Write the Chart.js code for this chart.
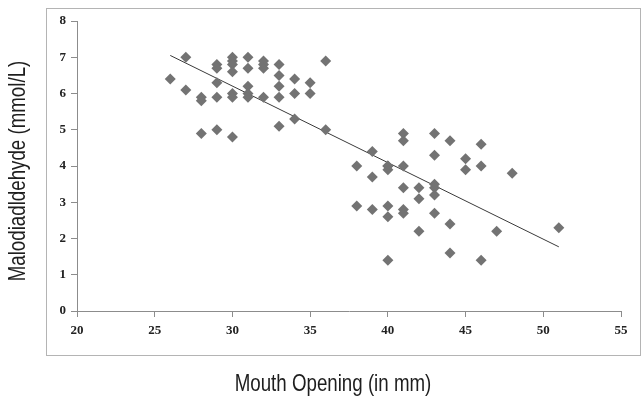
<!DOCTYPE html>
<html>
<head>
<meta charset="utf-8">
<script src="https://cdn.jsdelivr.net/npm/chart.js@4"></script>
<style>
  html, body { margin: 0; padding: 0; background: #fff; }
  #wrap { width: 644px; height: 400px; position: relative; }
</style>
</head>
<body>
<div id="wrap"><canvas id="scatter_chart"></canvas></div>
<script>
// Mouth opening (mm) vs malondialdehyde (mmol/L)
const mouthOpening = [
  26, 27, 27, 28, 28, 28,
  29, 29, 29, 29, 29,
  30, 30, 30, 30, 30, 30, 30,
  31, 31, 31, 31, 31,
  32, 32, 32, 32,
  33, 33, 33, 33, 33,
  34, 34, 34,
  35, 35,
  36, 36,
  38, 38,
  39, 39, 39,
  40, 40, 40, 40, 40, 40,
  41, 41, 41, 41, 41, 41,
  42, 42, 42,
  43, 43, 43, 43, 43, 43,
  44, 44, 44,
  45, 45,
  46, 46, 46,
  47, 48, 51
];
const malondialdehyde = [
  6.4, 7.0, 6.1, 5.9, 5.8, 4.9,
  6.8, 6.7, 6.3, 5.9, 5.0,
  7.0, 6.9, 6.8, 6.6, 6.0, 5.9, 4.8,
  7.0, 6.7, 6.2, 6.0, 5.9,
  6.9, 6.8, 6.7, 5.9,
  6.8, 6.5, 6.2, 5.9, 5.1,
  6.4, 6.0, 5.3,
  6.3, 6.0,
  6.9, 5.0,
  4.0, 2.9,
  4.4, 3.7, 2.8,
  4.0, 3.9, 2.9, 2.6, 1.4, 4.0,
  4.9, 4.7, 4.0, 3.4, 2.8, 2.7,
  3.4, 3.1, 2.2,
  4.9, 4.3, 3.5, 3.4, 3.2, 2.7,
  4.7, 2.4, 1.6,
  4.2, 3.9,
  4.6, 4.0, 1.4,
  2.2, 3.8, 2.3
];
// linear trend line end points as drawn
const trendX = [26, 51];
const trendY = [7.05, 1.77];

const xTicks = [20, 25, 30, 35, 40, 45, 50, 55];
const yTicks = [0, 1, 2, 3, 4, 5, 6, 7, 8];

const xTitle = 'Mouth Opening (in mm)';
const yTitle = 'Malodiadldehyde (mmol/L)';

let points = mouthOpening.map((x, i) => ({ x: x, y: malondialdehyde[i] }));
let trend = trendX.map((x, i) => ({ x: x, y: trendY[i] }));

const tickFont = { family: "'Liberation Serif', 'DejaVu Serif', serif", size: 13, weight: 'bold' };

// outer frame round the plot, like the spreadsheet chart border
const framePlugin = {
    id: 'frame',
    beforeDraw(chart) {
        const a = chart.chartArea;
        const ctx = chart.ctx;
        ctx.save();
        ctx.strokeStyle = '#b4b4b4';
        ctx.lineWidth = 1;
        ctx.strokeRect(Math.round(a.left - 31) + 0.5, Math.round(a.top - 13) + 0.5,
                       Math.round(a.right - a.left + 50), Math.round(a.bottom - a.top + 57));
        ctx.restore();
    }
};

// axis titles in a narrow face (no Arial Narrow here, so squeeze Liberation Sans)
const titlePlugin = {
    id: 'narrowTitles',
    afterDraw(chart) {
        const a = chart.chartArea;
        const ctx = chart.ctx;
        const squeeze = 0.78;
        ctx.save();
        ctx.fillStyle = '#1e1e1e';
        ctx.font = "24px 'Liberation Sans', Arial, sans-serif";
        ctx.textAlign = 'center';
        ctx.textBaseline = 'middle';
        // x title
        ctx.save();
        ctx.translate((a.left + a.right) / 2 - 16, a.bottom + 73);
        ctx.scale(squeeze, 1);
        ctx.fillText(xTitle, 0, 0);
        ctx.restore();
        // y title
        ctx.save();
        ctx.translate(18, (a.top + a.bottom) / 2 + 5);
        ctx.rotate(-Math.PI / 2);
        ctx.scale(squeeze, 1);
        ctx.fillText(yTitle, 0, 0);
        ctx.restore();
        ctx.restore();
    }
};

const ctxEl = document.getElementById('scatter_chart');

let chart = new Chart(ctxEl, {
    type: 'scatter',
    data: {
        datasets: [
            {
                label: 'MDA',
                data: points,
                pointStyle: 'rectRot',
                pointRadius: 5.5,
                pointHoverRadius: 5.5,
                backgroundColor: '#737373',
                borderColor: '#737373',
                borderWidth: 0
            },
            {
                label: 'Trend',
                type: 'line',
                data: trend,
                showLine: true,
                pointRadius: 0,
                borderColor: '#3a3a3a',
                borderWidth: 1,
                fill: false
            }
        ]
    },
    options: {
        responsive: true,
        maintainAspectRatio: false,
        animation: false,
        layout: { padding: { top: 21, right: 23, left: 0, bottom: 0 } },
        plugins: {
            legend: { display: false },
            tooltip: { enabled: false }
        },
        scales: {
            x: {
                type: 'linear',
                min: 20,
                max: 55,
                afterBuildTicks: s => { s.ticks = xTicks.map(v => ({ value: v })); },
                afterFit: s => { s.height = 89; },
                border: { color: '#8c8c8c', width: 1 },
                grid: { drawOnChartArea: false, tickLength: 6, color: '#8c8c8c' },
                ticks: { font: tickFont, color: '#222', padding: 6, maxRotation: 0 }
            },
            y: {
                type: 'linear',
                min: 0,
                max: 8,
                afterBuildTicks: s => { s.ticks = yTicks.map(v => ({ value: v })); },
                afterFit: s => { s.width = 77; },
                border: { color: '#8c8c8c', width: 1 },
                grid: { drawOnChartArea: false, tickLength: 6, color: '#8c8c8c' },
                ticks: { font: tickFont, color: '#222', padding: 5 }
            }
        }
    },
    plugins: [framePlugin, titlePlugin]
});
</script>
</body>
</html>
